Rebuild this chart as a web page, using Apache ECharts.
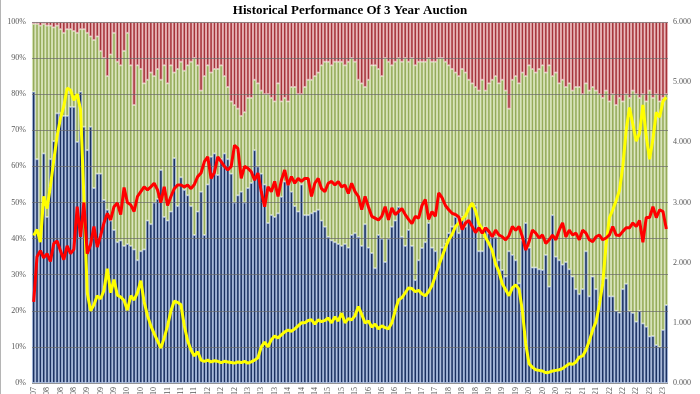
<!DOCTYPE html>
<html><head><meta charset="utf-8">
<script src="https://cdn.jsdelivr.net/npm/echarts@6/dist/echarts.min.js"></script>
<style>html,body{margin:0;padding:0;background:#fff}#c{width:700px;height:394px}</style>
</head><body><div id="c"></div>
<script>
const categories = [
'12/2007',
'1/2008','2/2008','3/2008','4/2008','5/2008','6/2008','7/2008','8/2008','9/2008','10/2008','11/2008','12/2008',
'1/2009','2/2009','3/2009','4/2009','5/2009','6/2009','7/2009','8/2009','9/2009','10/2009','11/2009','12/2009',
'1/2010','2/2010','3/2010','4/2010','5/2010','6/2010','7/2010','8/2010','9/2010','10/2010','11/2010','12/2010',
'1/2011','2/2011','3/2011','4/2011','5/2011','6/2011','7/2011','8/2011','9/2011','10/2011','11/2011','12/2011',
'1/2012','2/2012','3/2012','4/2012','5/2012','6/2012','7/2012','8/2012','9/2012','10/2012','11/2012','12/2012',
'1/2013','2/2013','3/2013','4/2013','5/2013','6/2013','7/2013','8/2013','9/2013','10/2013','11/2013','12/2013',
'1/2014','2/2014','3/2014','4/2014','5/2014','6/2014','7/2014','8/2014','9/2014','10/2014','11/2014','12/2014',
'1/2015','2/2015','3/2015','4/2015','5/2015','6/2015','7/2015','8/2015','9/2015','10/2015','11/2015','12/2015',
'1/2016','2/2016','3/2016','4/2016','5/2016','6/2016','7/2016','8/2016','9/2016','10/2016','11/2016','12/2016',
'1/2017','2/2017','3/2017','4/2017','5/2017','6/2017','7/2017','8/2017','9/2017','10/2017','11/2017','12/2017',
'1/2018','2/2018','3/2018','4/2018','5/2018','6/2018','7/2018','8/2018','9/2018','10/2018','11/2018','12/2018',
'1/2019','2/2019','3/2019','4/2019','5/2019','6/2019','7/2019','8/2019','9/2019','10/2019','11/2019','12/2019',
'1/2020','2/2020','3/2020','4/2020','5/2020','6/2020','7/2020','8/2020','9/2020','10/2020','11/2020','12/2020',
'1/2021','2/2021','3/2021','4/2021','5/2021','6/2021','7/2021','8/2021','9/2021','10/2021','11/2021','12/2021',
'1/2022','2/2022','3/2022','4/2022','5/2022','6/2022','7/2022','8/2022','9/2022','10/2022','11/2022','12/2022',
'1/2023','2/2023','3/2023','4/2023','5/2023','6/2023','7/2023','8/2023','9/2023'
];

// Dealer share (%), blue, bottom
const dealers = [
80.7,62,40,63.6,46,62,67,74.7,74.7,74,
74,76.5,76.5,66.8,80.7,71,64.5,71,54,58,
58,50.7,48,45,42.4,39,39.5,38,38.5,38,
37,34,36.5,37,45,44,50,51,59,46,
45,47.5,62.3,49,57,53.5,52,49,41,47.5,
53,41,55,62.7,63.6,57.6,62,63.6,62,58,
50,52,53,50,54,55.4,64.5,60,58,55,
44.3,46.5,46,47,51.6,55.8,55,53,49,47.5,
55,46.5,46.5,47,47.5,48,45,43.3,40.5,39.5,
39,38.5,38,38.5,37.5,41,41.5,40.5,38,44,
37.5,36,31.8,41,40,33.5,40,43.3,45,48.8,
40.5,38,42.4,38,28.5,34,37.4,39,44.3,37.5,
36.5,32,37.5,38.5,41.5,43.3,46,41.5,46,43.3,
45,49.8,49,36.5,36.5,43.3,41.5,40.5,40.5,34,
31.3,29.5,36.5,35.5,34,27.6,39.5,44.3,37.5,32,
32,31.5,31.3,35.5,26.7,46.5,35,34,32.8,33.5,
31.5,29.5,26,24.6,26,36.5,24,29.5,26,23,
28.5,29,24,24,20,19.5,26,27.5,19.9,19.4,
17,20,16.5,15.6,12.9,13,10.5,10,14.7,21.6
];
// Indirect share (%), green, middle
const indirects = [
18.8,37.5,59,35.9,53,37,31.5,24.3,23.3,23,
24,21.5,21,30.2,17.3,27,32.5,25,41,38,
34,39.3,37,46,54.6,50,48.5,54,58.5,50,
40,54,50.5,46,39,42,35,36,25,42,
38,40.5,23.7,38,32,33,36,40,49,40.5,
28,44,33,23.3,23.4,29.4,26,21.4,20,20,
27,24,21,25,25,23.6,19.5,23,23,25,
35.7,32.5,32,36,26.4,23.2,23,29,33,32.5,
25,35.5,37.5,37,37.5,38,43,45.7,48.5,48.5,
50,50.5,51,49.5,51.5,49,47.5,43.5,45,38,
46.5,52,56.2,46,45,56.5,49,44.7,44,41.2,
48.5,52,46.6,52,59.5,55,51.6,50,45.7,51.5,
52.5,58,52.5,50.5,46.5,43.7,40,43.5,41,42.7,
39,33.2,33,44.5,47.5,37.7,41.5,43.5,44.5,49,
52.7,51.5,39.5,48.5,51,55.4,46.5,40.7,50.5,55,
54,55.5,56.7,50.5,61.3,38.5,51,49,51.2,48.5,
51.5,51.5,56,57.4,54,46.5,57,52.5,55,57,
50.5,52,54,56,57,59.5,52,52.5,59.1,61.6,
63,59,63.5,62.4,68.1,66,69.5,68,64.3,58.4
];
// Direct share (%), red, top
const directs = [
0.5,0.5,1,0.5,1,1,1.5,1,2,3,
2,2,2.5,3,2,2,3,4,5,4,
8,10,15,9,3,11,12,8,3,12,
23,12,13,17,16,14,15,13,16,12,
17,12,14,13,11,13.5,12,11,10,12,
19,15,12,14,13,13,12,15,18,22,
23,24,26,25,21,21,16,17,19,20,
20,21,22,17,22,21,22,18,18,20,
20,18,16,16,15,14,12,11,11,12,
11,11,11,12,11,10,11,16,17,18,
16,12,12,13,15,10,11,12,11,10,
11,10,11,10,12,11,11,11,10,11,
11,10,10,11,12,13,14,15,13,14,
16,17,18,19,16,19,17,16,15,17,
16,19,24,16,15,17,14,15,12,13,
14,13,12,14,12,15,14,17,16,18,
17,19,18,18,20,17,19,18,19,20,
21,19,22,20,23,21,22,20,21,19,
20,21,20,22,19,21,20,22,21,20
];
// High yield (right axis), yellow
const yields = [
2.45,2.55,2.34,3.1,2.9,3.27,3.7,4.1,4.4,4.6,
4.9,4.87,4.7,4.8,4.55,3.1,1.5,1.2,1.3,1.45,
1.4,1.54,1.9,1.5,1.72,1.46,1.43,1.37,1.21,1.45,
1.38,1.5,1.7,1.35,1.12,0.95,0.82,0.7,0.58,0.75,
0.95,1.2,1.36,1.34,1.3,0.95,0.7,0.55,0.45,0.52,
0.38,0.36,0.38,0.35,0.37,0.36,0.34,0.36,0.35,0.34,
0.33,0.35,0.34,0.36,0.33,0.35,0.38,0.42,0.6,0.68,
0.6,0.72,0.78,0.75,0.8,0.85,0.88,0.86,0.9,0.95,
1.0,1.0,1.04,1.05,0.98,1.05,1.02,1.04,1.08,1.0,
1.1,1.03,1.16,1.0,1.07,1.05,1.12,1.27,1.14,1.0,
1.03,0.93,0.98,0.9,0.95,0.92,0.9,1.0,1.2,1.38,
1.42,1.5,1.58,1.57,1.52,1.54,1.48,1.45,1.52,1.62,
1.78,1.95,2.1,2.25,2.38,2.47,2.6,2.66,2.72,2.78,
2.9,2.99,2.86,2.65,2.56,2.42,2.32,2.2,1.98,1.85,
1.65,1.55,1.45,1.58,1.63,1.56,1.2,0.65,0.32,0.26,
0.22,0.21,0.2,0.17,0.18,0.2,0.21,0.22,0.24,0.28,
0.32,0.31,0.35,0.43,0.45,0.55,0.7,0.88,1.02,1.3,
1.65,2.3,2.75,2.88,3.03,3.2,3.6,4.2,4.58,4.3,
4.02,4.15,4.62,4.1,3.72,4.05,4.5,4.42,4.68,4.75
];
// Bid to cover (right axis), red
const bidToCover = [
1.35,2.1,2.2,2.08,2.15,2.02,2.32,2.36,2.2,2.05,
2.28,2.15,2.22,2.93,2.43,3.0,2.15,2.3,2.6,2.26,
2.45,2.66,2.82,2.71,2.93,2.99,2.8,3.25,3.0,2.96,
2.85,3.1,3.18,3.26,3.21,3.26,3.32,3.21,3.0,3.26,
2.95,3.1,3.23,3.29,3.29,3.26,3.29,3.23,3.3,3.43,
3.49,3.68,3.76,3.4,3.5,3.76,3.68,3.6,3.54,3.6,
3.95,3.9,3.4,3.6,3.57,3.51,3.37,3.49,3.18,2.93,
3.26,3.18,3.35,3.1,3.37,3.54,3.29,3.43,3.32,3.4,
3.35,3.4,3.4,3.1,3.32,3.4,3.23,3.18,3.32,3.35,
3.29,3.35,3.26,3.29,3.15,3.32,3.18,3.1,2.88,3.1,
2.93,2.77,2.74,2.71,2.77,2.93,2.71,2.91,2.8,2.85,
2.9,2.8,2.72,2.65,2.77,2.74,2.95,3.05,2.72,2.85,
2.77,3.16,3.08,2.95,2.88,2.82,2.8,2.76,2.55,2.66,
2.7,2.6,2.5,2.58,2.49,2.58,2.52,2.43,2.54,2.46,
2.43,2.38,2.45,2.6,2.54,2.6,2.43,2.21,2.35,2.54,
2.49,2.41,2.46,2.32,2.38,2.46,2.38,2.54,2.66,2.43,
2.54,2.46,2.49,2.38,2.54,2.49,2.38,2.35,2.43,2.46,
2.38,2.41,2.46,2.6,2.46,2.45,2.52,2.58,2.58,2.66,
2.6,2.7,2.34,2.75,2.75,2.93,2.75,2.88,2.85,2.56
];

const serif = '"Liberation Serif", "DejaVu Serif", serif';
const chart = echarts.init(document.getElementById('c'), null, {renderer: 'canvas'});
chart.setOption({
  animation: false,
  backgroundColor: '#ffffff',
  title: {
    text: 'Historical Performance Of 3 Year Auction',
    left: 'center', top: -1,
    textStyle: {fontFamily: serif, fontWeight: 'bold', fontSize: 13, color: '#000'}
  },
  graphic: [{type: 'line', shape: {x1: 0.5, y1: 0, x2: 0.5, y2: 394}, style: {stroke: '#b5b5b5', lineWidth: 1}}],
  grid: {left: 32, right: 32, top: 22, bottom: 11, containLabel: false, outerBoundsMode: 'none'},
  xAxis: {
    type: 'category', data: categories,
    axisLine: {show: false}, axisTick: {show: false},
    axisLabel: {interval: 3, rotate: 90, fontFamily: serif, fontSize: 8, color: '#595959', margin: 4}
  },
  yAxis: [
    {type: 'value', min: 0, max: 100, interval: 10, z: 3,
     axisLine: {show: false}, axisTick: {show: false},
     axisLabel: {formatter: '{value}%', fontFamily: serif, fontSize: 8, color: '#595959', margin: 6},
     splitLine: {show: true, lineStyle: {color: '#6a6a6a', width: 1, opacity: 0.7}}},
    {type: 'value', min: 0, max: 6, interval: 1, position: 'right',
     axisLine: {show: false}, axisTick: {show: false}, splitLine: {show: false},
     axisLabel: {formatter: v => v.toFixed(3), fontFamily: serif, fontSize: 8, color: '#595959', margin: 5}}
  ],
  series: [
    {name: 'Dealers', type: 'bar', stack: 'pct', data: dealers, barCategoryGap: '0%', z: 2,
     itemStyle: {color: '#1b3160', borderColor: '#a4b8dc', borderWidth: 0.9}},
    {name: 'Indirects', type: 'bar', stack: 'pct', data: indirects, z: 2,
     itemStyle: {color: '#95ab5a', borderColor: '#d6e2b6', borderWidth: 0.9}},
    {name: 'Directs', type: 'bar', stack: 'pct', data: directs, z: 2,
     itemStyle: {color: '#a5333a', borderColor: '#e8b2b4', borderWidth: 0.9}},
    {name: 'Yield', type: 'line', yAxisIndex: 1, data: yields, symbol: 'none', z: 5,
     lineStyle: {color: '#ffff00', width: 3}},
    {name: 'Bid to Cover', type: 'line', yAxisIndex: 1, data: bidToCover, symbol: 'none', z: 6,
     lineStyle: {color: '#ff0000', width: 3}}
  ]
});
</script>
</body></html>
